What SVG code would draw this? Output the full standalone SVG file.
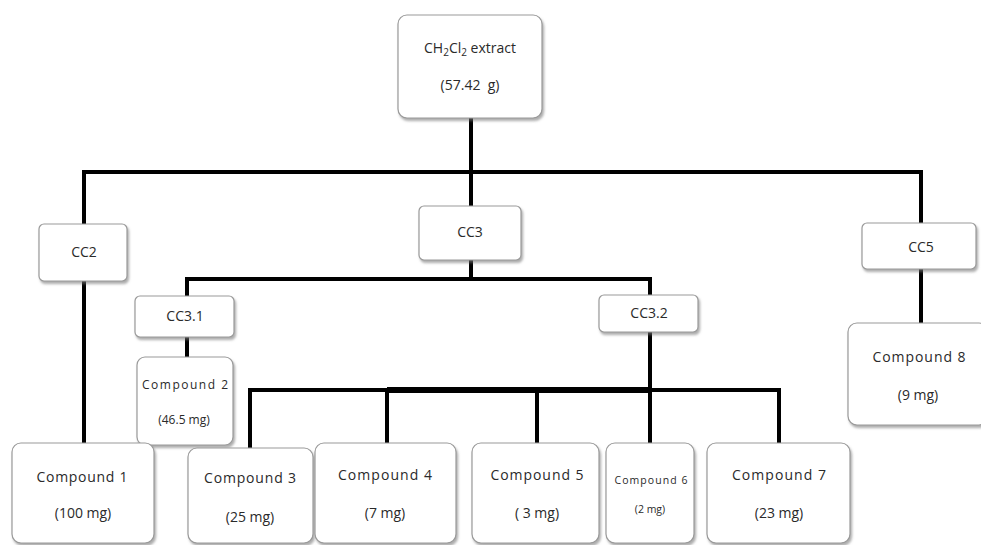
<svg xmlns="http://www.w3.org/2000/svg" width="981" height="545" viewBox="0 0 981 545">
<defs>
<filter id="sh" x="-10%" y="-10%" width="130%" height="130%">
<feDropShadow dx="1.5" dy="2.5" stdDeviation="1.2" flood-color="#777" flood-opacity="0.6"/>
</filter>
<style>
.box{fill:#fff;stroke:#9a9a9a;stroke-width:1.2;filter:url(#sh)}
.t{font-family:"Open Sans","Liberation Sans",sans-serif;font-size:14px;fill:#2a2a2a;text-anchor:middle}
.s{font-size:12px}
.xs{font-size:10.5px}
.sub{font-size:10px}
.c{stroke:#000;stroke-width:4;fill:none;stroke-linecap:square}
</style>
</defs>
<rect width="981" height="545" fill="#fff"/>
<g id="connectors">
<path class="c" d="M471 118V172M84 172H921M84 172V224M471 172V206M921 172V223"/>
<path class="c" d="M84 281V443"/>
<path class="c" d="M471 260V279M187 279H650M187 279V296M650 279V295"/>
<path class="c" d="M187 337V357"/>
<path class="c" d="M921 269V323"/>
<path class="c" d="M650 332V442"/>
<path class="c" d="M250 390H387M250 390V448M387 390V442M537 390V442M650 390H779V442"/>
<path d="M387 390H650" stroke="#000" stroke-width="6" fill="none"/>
</g>
<g id="extract">
<rect class="box" x="398" y="15" width="144" height="103" rx="9"/>
<text class="t" x="470" y="53">CH<tspan class="sub" dy="3">2</tspan><tspan dy="-3">Cl</tspan><tspan class="sub" dy="3">2</tspan><tspan dy="-3"> extract</tspan></text>
<text class="t" x="470" y="90" xml:space="preserve">(57.42  g)</text>
</g>
<g id="cc2">
<rect class="box" x="39" y="224" width="88" height="57" rx="5"/>
<text class="t" x="84" y="257">CC2</text>
</g>
<g id="cc3">
<rect class="box" x="419" y="206" width="102" height="54" rx="5"/>
<text class="t" x="470" y="237">CC3</text>
</g>
<g id="cc5">
<rect class="box" x="862" y="223" width="114" height="46" rx="5"/>
<text class="t" x="921" y="252">CC5</text>
</g>
<g id="cc31">
<rect class="box" x="135" y="296" width="99" height="41" rx="5"/>
<text class="t" x="185" y="321">CC3.1</text>
</g>
<g id="cc32">
<rect class="box" x="599" y="295" width="99" height="37" rx="5"/>
<text class="t" x="649" y="318">CC3.2</text>
</g>
<g id="compound2">
<rect class="box" x="137" y="357" width="96" height="88" rx="8"/>
<text class="t s" x="185" y="389" textLength="86" lengthAdjust="spacing">Compound 2</text>
<text class="t s" x="184" y="424">(46.5 mg)</text>
</g>
<g id="compound8">
<rect class="box" x="848" y="323" width="140" height="102" rx="9"/>
<text class="t" x="919" y="362" textLength="93" lengthAdjust="spacing">Compound 8</text>
<text class="t" x="918" y="400">(9 mg)</text>
</g>
<g id="compound1">
<rect class="box" x="12" y="443" width="142" height="100" rx="9"/>
<text class="t" x="82" y="482" textLength="91" lengthAdjust="spacing">Compound 1</text>
<text class="t" x="83" y="518">(100 mg)</text>
</g>
<g id="compound3">
<rect class="box" x="188" y="448" width="125" height="95" rx="9"/>
<text class="t" x="250" y="483" textLength="92" lengthAdjust="spacing">Compound 3</text>
<text class="t" x="250" y="522">(25 mg)</text>
</g>
<g id="compound4">
<rect class="box" x="315" y="443" width="141" height="100" rx="9"/>
<text class="t" x="385" y="480" textLength="94" lengthAdjust="spacing">Compound 4</text>
<text class="t" x="385" y="518">(7 mg)</text>
</g>
<g id="compound5">
<rect class="box" x="472" y="443" width="127" height="100" rx="9"/>
<text class="t" x="537" y="480" textLength="93" lengthAdjust="spacing">Compound 5</text>
<text class="t" x="537" y="518" xml:space="preserve">( 3 mg)</text>
</g>
<g id="compound6">
<rect class="box" x="606" y="443" width="88" height="100" rx="9"/>
<text class="t xs" x="651" y="484" textLength="73" lengthAdjust="spacing">Compound 6</text>
<text class="t xs" x="650" y="513">(2 mg)</text>
</g>
<g id="compound7">
<rect class="box" x="707" y="443" width="143" height="100" rx="9"/>
<text class="t" x="779" y="480" textLength="94" lengthAdjust="spacing">Compound 7</text>
<text class="t" x="779" y="518">(23 mg)</text>
</g>
</svg>
